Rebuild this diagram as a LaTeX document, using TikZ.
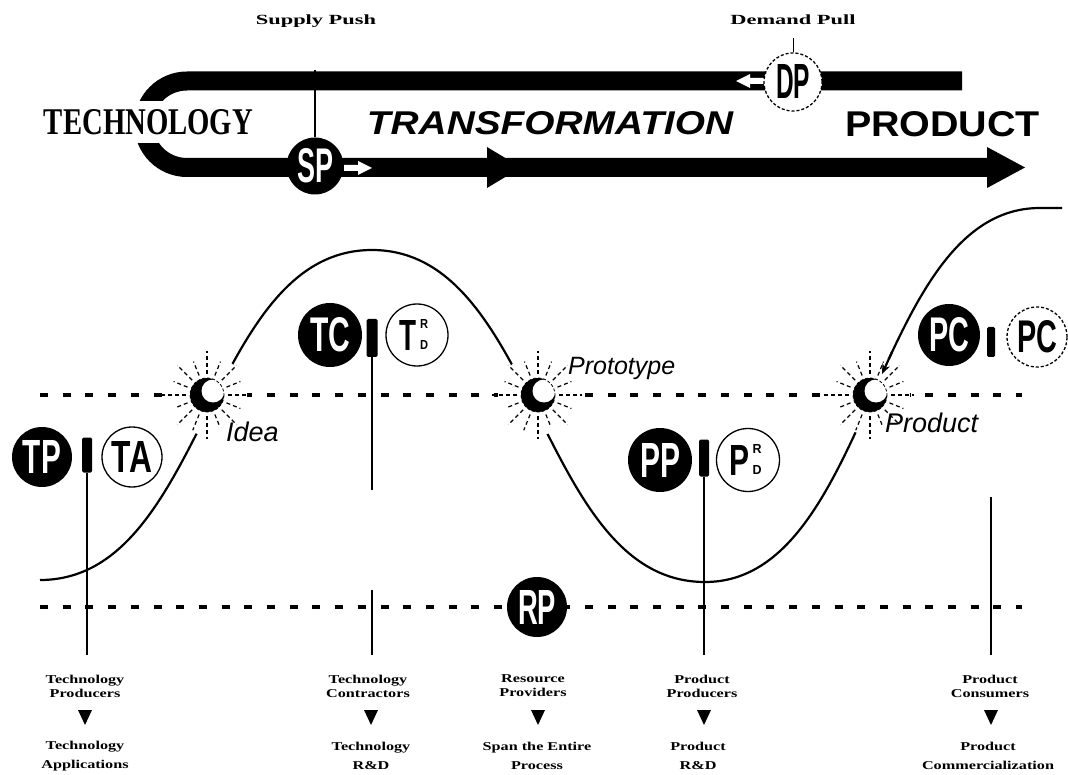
\documentclass[tikz,border=0pt]{standalone}
\usepackage{fontspec}
\usepackage{graphicx}
\setmainfont{Liberation Serif}
\newfontfamily\sansf{Liberation Sans}
\newfontfamily\lblfont{Liberation Serif}[FakeStretch=1.35]
\newfontfamily\topfont{Liberation Serif}[FakeStretch=1.6]
\usetikzlibrary{arrows.meta}
\newcommand{\bdg}[3]{\resizebox{#1}{#2}{\sansf\bfseries #3}}
\tikzset{
  blackbadge/.style={circle, fill=black, minimum size=60pt, inner sep=0pt, text=white},
  whitebadge/.style={circle, fill=white, draw=black, line width=1.3pt, minimum size=60pt, inner sep=0pt},
  dashbadge/.style={whitebadge, dash pattern=on 3pt off 2pt},
  barbox/.style={rectangle, fill=black, rounded corners=1.5pt, inner sep=0pt, minimum width=10pt, minimum height=35pt},
  subletter/.style={inner sep=0pt},
  leader/.style={line width=1.4pt},
  guide/.style={line width=3.5pt, dash pattern=on 8pt off 14.7pt},
  wave/.style={line width=2.2pt},
  lbl/.style={font=\lblfont\bfseries\fontsize{12}{14}\selectfont, align=center, inner sep=0pt},
  lblb/.style={font=\lblfont\bfseries\fontsize{12}{19}\selectfont, align=center, inner sep=0pt},
  toplbl/.style={font=\topfont\bfseries\fontsize{14}{16}\selectfont, inner sep=0pt},
  starlbl/.style={font=\sansf\itshape\fontsize{27}{30}\selectfont, inner sep=0pt, anchor=west},
  band/.style={line width=19pt},
  burst/.pic={
    \fill[white] (0,0) circle[radius=40];
    \foreach \a/\l in {0/44,22/36,45/42,68/34,90/44,112/38,135/42,158/34,180/46,202/36,225/42,248/36,270/44,292/36,315/42,338/36}
      \draw[line width=1.2pt, dash pattern=on 4pt off 3pt] (\a:21) -- (\a:\l);
    \fill[black] (0,0) circle[radius=17];
    \fill[white] (6,-4) circle[radius=11.5];
    \draw[line width=0.8pt, densely dashed] (0,0) circle[radius=17];
  }
}
\begin{document}
\begin{tikzpicture}[x=1pt,y=-1pt]
\useasboundingbox (0,0) rectangle (1068,775);
% ---------- top band ----------
\draw[band] (962,81) -- (187,81) arc[start angle=270, end angle=90, radius=43.25] -- (990,167.5);
\fill (487,147) -- (521,167.5) -- (487,188) -- cycle;
\fill (987,147) -- (1025,167.5) -- (987,188) -- cycle;
\node[fill=white, inner sep=0pt, minimum height=42pt] (tech) at (148.5,122.5) {\resizebox{209pt}{25pt}{\bfseries TECHNOLOGY}};
\node[inner sep=0pt] (trans) at (550,123) {\resizebox{366pt}{23pt}{\sansf\bfseries\itshape TRANSFORMATION}};
\node[inner sep=0pt] (prod) at (942.5,124.5) {\resizebox{195pt}{25pt}{\sansf\bfseries PRODUCT}};
\fill[white] (736,81) -- (750,74) -- (750,78) -- (766,78) -- (766,84) -- (750,84) -- (750,88) -- cycle;
\node[blackbadge, minimum size=57pt] (sp) at (315,166) {\bdg{36pt}{34pt}{SP}};
\fill[white] (344,165) -- (358,165) -- (358,161) -- (372,168) -- (358,175) -- (358,171) -- (344,171) -- cycle;
\node[dashbadge, minimum size=58pt] (dp) at (793,82) {\bdg{34pt}{34pt}{DP}};
\coordinate (spTop) at (315,70);
\draw[leader] (sp.north) -- (spTop);
\draw[line width=1pt] (dp.north) -- ++(0,-14);
\node[toplbl] (push) at (316,21) {Supply Push};
\node[toplbl] (pull) at (793,20) {Demand Pull};
% ---------- guides and wave ----------
\draw[guide] (40,395) -- (1022,395);
\draw[guide] (40,607) -- (1022,607);
\draw[wave] (40,580) .. controls (206,580) and (206,250) .. (372,250)
  .. controls (538.5,250) and (538.5,582) .. (705,582)
  .. controls (872.5,582) and (872.5,208) .. (1040,208) -- (1062,208);
\pic (idea) at (207,395) {burst};
\pic (proto) at (538,395) {burst};
\pic (prodstar) at (870,395) {burst};
\draw[wave, -{Stealth[length=10pt,width=8pt]}] (892,352) -- (882,374);
\node[starlbl] (idealbl) at (226,432) {Idea};
\node[starlbl, font=\sansf\itshape\fontsize{25}{28}\selectfont] (protolbl) at (568,368) {Prototype};
\node[starlbl] (prodlbl) at (885,423) {Product};
% ---------- badges ----------
\node[blackbadge] (tp) at (42,457) {\bdg{38pt}{33pt}{TP}};
\node[barbox] (tpbar) at (87,455) {};
\node[whitebadge] (ta) at (132,457) {\bdg{40pt}{31pt}{TA}};
\node[blackbadge, minimum size=64pt] (tc) at (330,335) {\bdg{40pt}{34pt}{TC}};
\node[barbox, minimum height=38pt, minimum width=11pt] (tcbar) at (372,338) {};
\node[whitebadge, minimum size=62pt] (trd) at (417,335) {};
\node[subletter] (trdT) at (408,335) {\bdg{17pt}{30pt}{T}};
\node[subletter] (trdR) at (424,324) {\bdg{8pt}{9pt}{R}};
\node[subletter] (trdD) at (424,345) {\bdg{8pt}{9pt}{D}};
\node[blackbadge, minimum size=64pt] (pp) at (660,460) {\bdg{40pt}{34pt}{PP}};
\node[barbox, minimum height=37pt] (ppbar) at (704,458) {};
\node[whitebadge, minimum size=63pt] (prd) at (748,460) {};
\node[subletter] (prdP) at (739,460) {\bdg{20pt}{30pt}{P}};
\node[subletter] (prdR) at (757,449) {\bdg{9pt}{9pt}{R}};
\node[subletter] (prdD) at (757,470) {\bdg{9pt}{9pt}{D}};
\node[blackbadge, minimum size=62pt] (pcb) at (949,335) {\bdg{40pt}{34pt}{PC}};
\node[barbox, minimum height=30pt, minimum width=8pt] (pcbar) at (991,342) {};
\node[dashbadge, minimum size=60pt] (pcw) at (1037,337) {\bdg{40pt}{32pt}{PC}};
\node[blackbadge] (rp) at (537,607) {\bdg{38pt}{34pt}{RP}};
% ---------- leaders ----------
\draw[leader] (tpbar.south) -- ++(0,182);
\draw[leader] (tcbar.south) -- ++(0,133);
\coordinate (tcA) at (372,590);
\coordinate (tcB) at (372,655);
\draw[leader] (tcA) -- (tcB);
\draw[leader] (ppbar.south) -- ++(0,178);
\coordinate (pcA) at (991,497);
\coordinate (pcB) at (991,655);
\draw[leader] (pcA) -- (pcB);
% ---------- labels ----------
\node[lbl] (l1) at (85,686) {Technology\\Producers};
\node[lbl] (l2) at (368,686) {Technology\\Contractors};
\node[lbl] (l3) at (533,686) {Resource\\Providers};
\node[lbl] (l4) at (702,686) {Product\\Producers};
\node[lbl] (l5) at (990,686) {Product\\Consumers};
\foreach \x in {85,371,538,704,991}
  \fill (\x-7,710) -- (\x+7,710) -- (\x,725) -- cycle;
\node[lblb] (b1) at (85,756) {Technology\\Applications};
\node[lblb] (b2) at (371,756) {Technology\\R\&D};
\node[lblb] (b3) at (537,756) {Span the Entire\\Process};
\node[lblb] (b4) at (698,756) {Product\\R\&D};
\node[lblb] (b5) at (988,756) {Product\\Commercialization};
\end{tikzpicture}
\end{document}
